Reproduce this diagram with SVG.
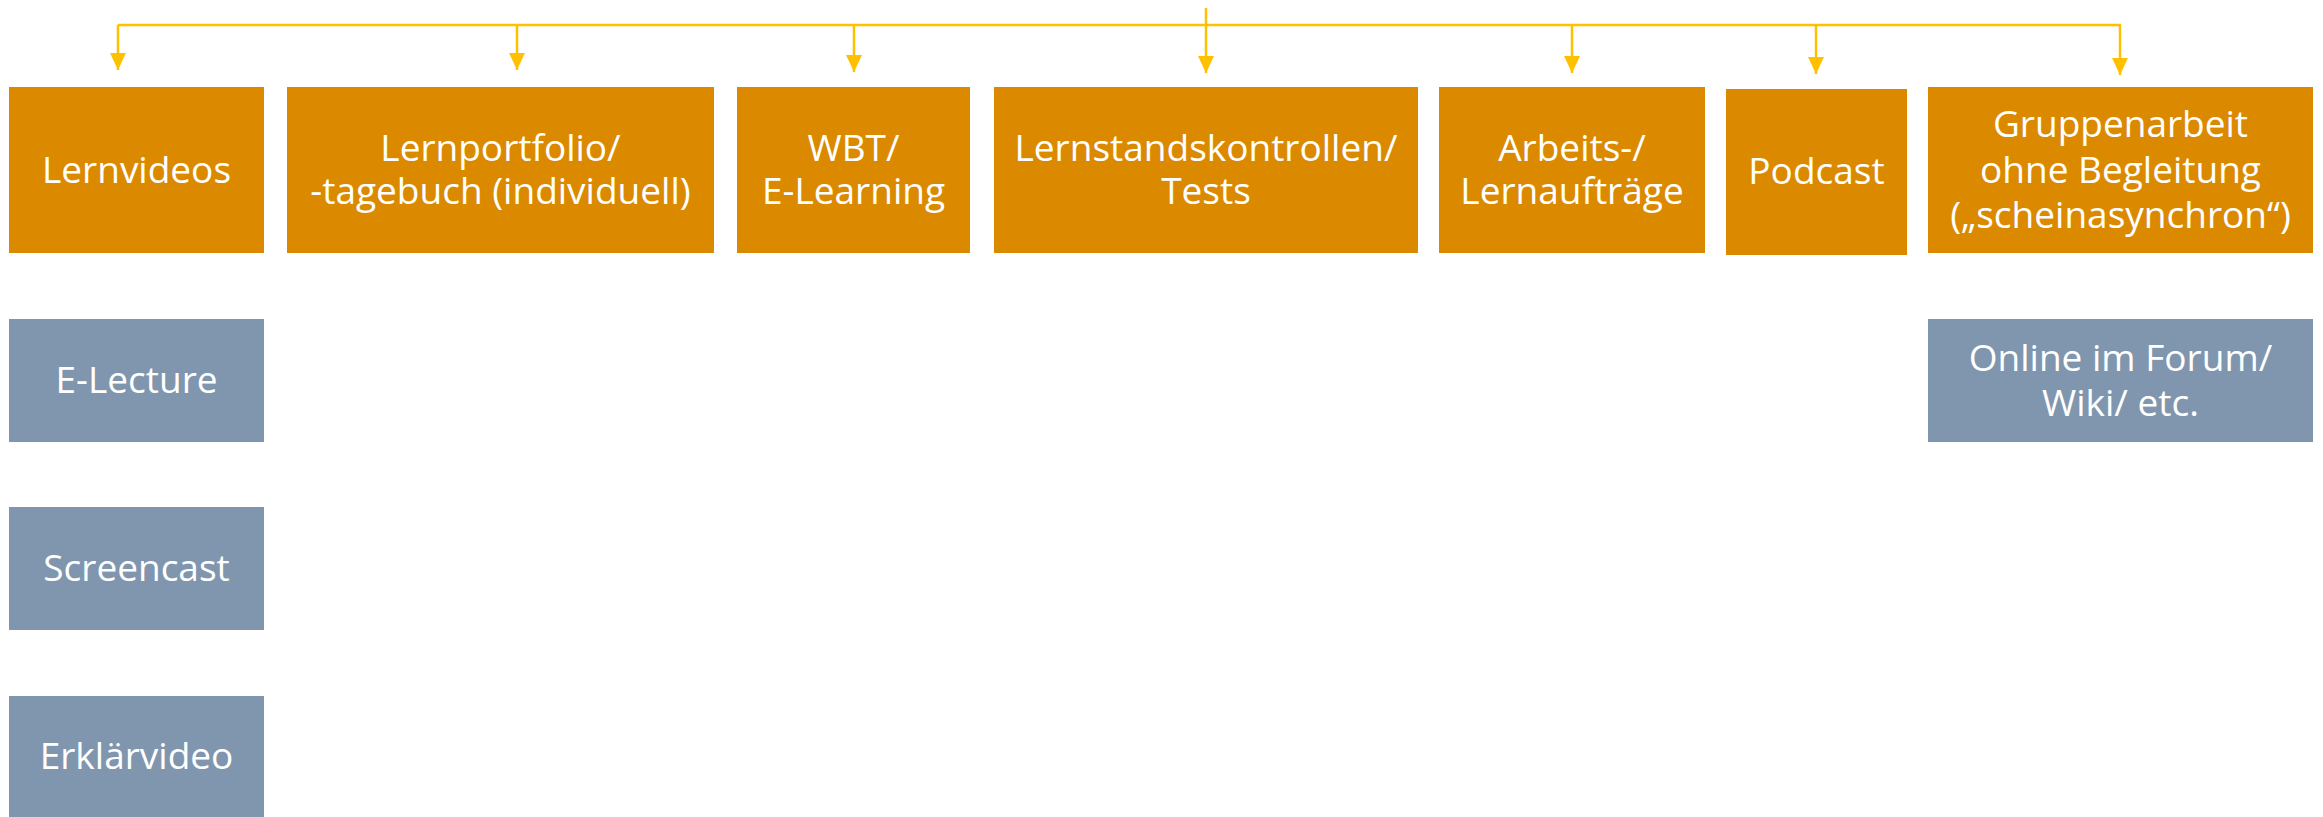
<svg xmlns="http://www.w3.org/2000/svg" width="2323" height="817" viewBox="0 0 2323 817">
<style>
.o{fill:#DB8A00}
.b{fill:#8096AE}
.t{font-family:"Open Sans","Noto Sans","Liberation Sans",sans-serif;font-size:37px;fill:#FFFFFF;text-anchor:middle}
.c{fill:none;stroke:#FFC000;stroke-width:2.5}
</style>
<defs>
<marker id="ah" markerUnits="userSpaceOnUse" markerWidth="17" markerHeight="16" refX="17" refY="8" orient="auto" viewBox="0 0 17 16">
<path d="M0,0 L17,8 L0,16 Z" fill="#FFC000"/>
</marker>
</defs>
<rect width="2323" height="817" fill="#FFFFFF"/>
<g id="connectors">
<path class="c" d="M1206,8 L1206,25"/>
<path class="c" d="M118,25 L2121,25"/>
<path class="c" d="M118,25 L118,70" marker-end="url(#ah)"/>
<path class="c" d="M517,25 L517,70" marker-end="url(#ah)"/>
<path class="c" d="M854,25 L854,72" marker-end="url(#ah)"/>
<path class="c" d="M1206,25 L1206,73" marker-end="url(#ah)"/>
<path class="c" d="M1572,25 L1572,73" marker-end="url(#ah)"/>
<path class="c" d="M1816,25 L1816,74" marker-end="url(#ah)"/>
<path class="c" d="M2120,25 L2120,75" marker-end="url(#ah)"/>
</g>
<g id="lernvideos">
<rect class="o" x="9" y="87" width="255" height="166"/>
<text class="t" x="136.5" y="183">Lernvideos</text>
</g>
<g id="lernportfolio">
<rect class="o" x="287" y="87" width="427" height="166"/>
<text class="t" x="500.5" y="161">Lernportfolio/</text>
<text class="t" x="500.5" y="204">-tagebuch (individuell)</text>
</g>
<g id="wbt">
<rect class="o" x="737" y="87" width="233" height="166"/>
<text class="t" x="853.5" y="161">WBT/</text>
<text class="t" x="853.5" y="204">E-Learning</text>
</g>
<g id="lernstand">
<rect class="o" x="994" y="87" width="424" height="166"/>
<text class="t" x="1206" y="161">Lernstandskontrollen/</text>
<text class="t" x="1206" y="204">Tests</text>
</g>
<g id="arbeits">
<rect class="o" x="1439" y="87" width="266" height="166"/>
<text class="t" x="1572" y="161">Arbeits-/</text>
<text class="t" x="1572" y="204">Lernaufträge</text>
</g>
<g id="podcast">
<rect class="o" x="1726" y="89" width="181" height="166"/>
<text class="t" x="1816.5" y="184">Podcast</text>
</g>
<g id="gruppenarbeit">
<rect class="o" x="1928" y="87" width="385" height="166"/>
<text class="t" x="2120.5" y="137">Gruppenarbeit</text>
<text class="t" x="2120.5" y="183">ohne Begleitung</text>
<text class="t" x="2120.5" y="228">(„scheinasynchron“)</text>
</g>
<g id="electure">
<rect class="b" x="9" y="319" width="255" height="123"/>
<text class="t" x="136.5" y="393">E-Lecture</text>
</g>
<g id="screencast">
<rect class="b" x="9" y="507" width="255" height="123"/>
<text class="t" x="136.5" y="581">Screencast</text>
</g>
<g id="erklaervideo">
<rect class="b" x="9" y="696" width="255" height="121"/>
<text class="t" x="136.5" y="769">Erklärvideo</text>
</g>
<g id="online">
<rect class="b" x="1928" y="319" width="385" height="123"/>
<text class="t" x="2120.5" y="371">Online im Forum/</text>
<text class="t" x="2120.5" y="416">Wiki/ etc.</text>
</g>
</svg>
